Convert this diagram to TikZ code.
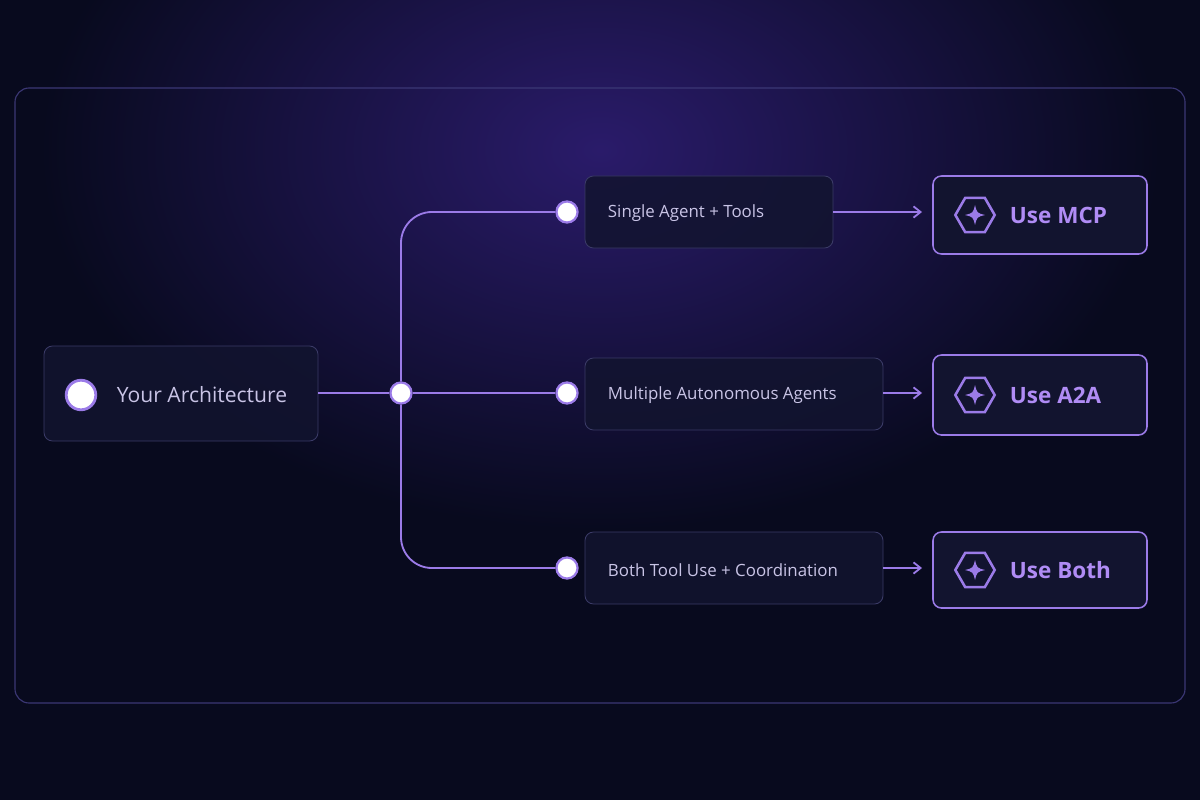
\documentclass[tikz,border=0pt]{standalone}
\usepackage{fontspec}
\setmainfont{Open Sans}
\usetikzlibrary{shapes.geometric,arrows.meta,calc}
\definecolor{bgdark}{HTML}{080A1E}
\definecolor{bgglow}{HTML}{2A1B6A}
\definecolor{frame}{HTML}{3B3775}
\definecolor{boxfill}{HTML}{12142F}
\definecolor{boxline}{HTML}{3A3A66}
\definecolor{lila}{HTML}{9B7BE8}
\definecolor{txt}{HTML}{C9C4E6}
\definecolor{restxt}{HTML}{B08CF5}
\begin{document}
\begin{tikzpicture}[x=0.025cm,y=-0.025cm,
  box/.style={draw=boxline,fill=boxfill,fill opacity=0.85,text opacity=1,rounded corners=6pt,line width=0.6pt},
  res/.style={draw=lila,fill=boxfill,rounded corners=6pt,line width=1.1pt},
  dot/.style={circle,draw=lila,fill=white,line width=1.6pt,minimum size=15pt,inner sep=0pt},
  mid/.style={font=\fontsize{12}{14}\selectfont,text=txt,anchor=west},
  link/.style={draw=lila,line width=1.3pt},
  arr/.style={link,-{Straight Barb[length=5pt,width=8pt]}},
  rt/.style={font=\fontsize{16}{20}\selectfont\bfseries,text=restxt,anchor=west}]
\useasboundingbox (0,0) rectangle (1200,800);
\fill[bgdark] (0,0) rectangle (1200,800);
\shade[inner color=bgglow,outer color=bgdark] (600,150) ellipse (560 and 380);
\fill[bgdark,opacity=0.35] (0,560) rectangle (1200,800);
\draw[frame,line width=0.8pt,rounded corners=10pt] (15,88) rectangle (1185,703);
% left box
\draw[box] (44,346) rectangle (318,441);
\coordinate (aout) at (318,393);
\node[dot,minimum size=21pt,line width=2pt] (adot) at (81,395) {};
\node[font=\fontsize{15}{18}\selectfont,text=txt,anchor=west] (atxt) at (112,395) {Your Architecture};
% junction
\node[dot] (j) at (401,393) {};
\node[dot] (c1) at (567,212) {};
\node[dot] (c2) at (567,393) {};
\node[dot] (c3) at (567,568) {};
\draw[link] (aout) -- (j);
\draw[link] (j) -- (c2);
\draw[link,rounded corners=22pt] (j.north) |- (c1);
\draw[link,rounded corners=22pt] (j.south) |- (c3);
% middle boxes
\draw[box] (585,176) rectangle (833,248);
\draw[box] (585,358) rectangle (883,430);
\draw[box] (585,532) rectangle (883,604);
\node[mid] (m1) at (603,213) {Single Agent + Tools};
\node[mid] (m2) at (603,395) {Multiple Autonomous Agents};
\node[mid] (m3) at (603,570) {Both Tool Use + Coordination};
\coordinate (o1) at (833,212);
\coordinate (o2) at (883,393);
\coordinate (o3) at (883,568);
% results
\foreach \n/\ya/\yb/\t in {1/176/254/Use MCP,2/355/435/Use A2A,3/532/608/Use Both}{
  \draw[res] (933,\ya) rectangle (1147,\yb);
  \coordinate (r\n) at (933,{(\ya+\yb)/2});
  \node[regular polygon,regular polygon sides=6,draw=lila,line width=1.8pt,minimum size=28pt,inner sep=0pt] (h\n) at (975,{(\ya+\yb)/2}) {};
  \fill[lila] ($(h\n)+(0,-10)$) .. controls ($(h\n)+(2,-2)$) .. ($(h\n)+(10,0)$) .. controls ($(h\n)+(2,2)$) .. ($(h\n)+(0,10)$) .. controls ($(h\n)+(-2,2)$) .. ($(h\n)+(-10,0)$) .. controls ($(h\n)+(-2,-2)$) .. cycle;
  \node[rt] (t\n) at (1005,{(\ya+\yb)/2}) {\t};
}
\draw[arr] (o1) -- (922,212);
\draw[arr] (o2) -- (922,393);
\draw[arr] (o3) -- (922,568);
\end{tikzpicture}
\end{document}
